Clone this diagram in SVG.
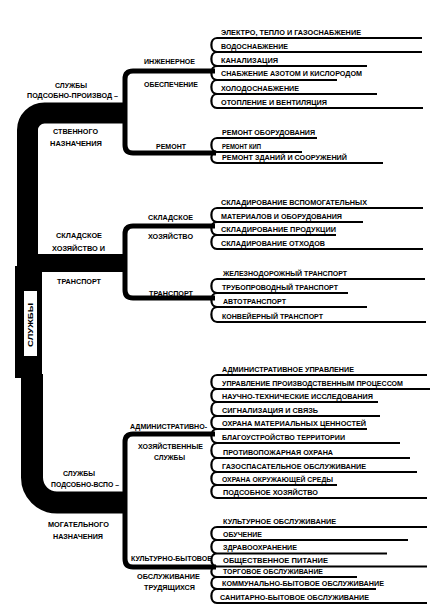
<svg xmlns="http://www.w3.org/2000/svg" width="439" height="615" viewBox="0 0 439 615">
<style>
text{font-family:"Liberation Sans","DejaVu Sans",sans-serif;font-weight:bold;font-size:7.8px;fill:#000}
.tk{fill:none;stroke:#000}
.br{fill:none;stroke:#000;stroke-width:5;stroke-linejoin:round}
.ln{fill:none;stroke:#000;stroke-width:2.2}
</style>
<rect width="439" height="615" fill="#fff"/>
<g id="connectors">
<path class="tk" stroke-width="21" d="M125,113 H44.5 A17,17 0 0 0 27.5,130 V274"/>
<rect x="15" y="266" width="27" height="112" fill="#000"/>
<path class="tk" stroke-width="22" d="M32,374 V477.5 A25,25 0 0 0 57,502.5 H125"/>
<rect x="36" y="254" width="89" height="18" fill="#000"/>
<path class="br" d="M215,71 H133 Q125,71 125,79 V145 Q125,153 133,153 H216"/>
<path class="br" d="M215,226 H133 Q125,226 125,234 V290 Q125,298 133,298 H215"/>
<path class="br" d="M215,434 H133 Q125,434 125,442 V559 Q125,567 133,567 H216"/>
<path class="ln" d="M217,38 C209.5,38 209.5,52 217,52 C209.5,52 209.5,66 217,66 C209.5,66 209.5,80 217,80 C209.5,80 209.5,94 217,94 C209.5,94 209.5,108 217,108 M217,38H422M217,52H422M217,66H367M217,80H337M217,94H377M217,108H423"/>
<path class="ln" d="M217,138 C209.5,138 209.5,152 217,152 C209.5,152 209.5,163 217,163 M217,138H317M217,152H302M217,163H383"/>
<path class="ln" d="M217,208 C209.5,208 209.5,222 217,222 C209.5,222 209.5,235 217,235 C209.5,235 209.5,249 217,249 M217,208H423M217,222H363M217,235H336M217,249H423"/>
<path class="ln" d="M217,279 C209.5,279 209.5,293 217,293 C209.5,293 209.5,307 217,307 C209.5,307 209.5,322 217,322 M217,279H425M217,293H348M217,307H367M217,322H426"/>
<path class="ln" d="M217,375 C209.5,375 209.5,389 217,389 C209.5,389 209.5,402 217,402 C209.5,402 209.5,416 217,416 C209.5,416 209.5,429 217,429 C209.5,429 209.5,443 217,443 C209.5,443 209.5,458 217,458 C209.5,458 209.5,472 217,472 C209.5,472 209.5,485 217,485 C209.5,485 209.5,498 217,498 M217,375H427M217,389H430M217,402H378M217,416H380M217,429H367M217,443H400M217,458H410M217,472H417M217,485H337M217,498H427"/>
<path class="ln" d="M217,527 C209.5,527 209.5,540 217,540 C209.5,540 209.5,553.5 217,553.5 C209.5,553.5 209.5,566.5 217,566.5 C209.5,566.5 209.5,577 217,577 C209.5,577 209.5,589 217,589 C209.5,589 209.5,603 217,603 M217,527H427M217,540H408M217,553.5H387M217,566.5H427M217,577H357M217,589H376M217,603H427"/>
</g>
<g id="root">
<rect x="24" y="291" width="13" height="65" fill="#fff"/>
<text transform="translate(33.3,347) rotate(-90)" x="0" y="0" textLength="44" lengthAdjust="spacingAndGlyphs">СЛУЖБЫ</text>
</g>
<g id="n-prod">
<text x="55" y="88" textLength="32" lengthAdjust="spacingAndGlyphs">СЛУЖБЫ</text>
<text x="27" y="98" textLength="91" lengthAdjust="spacingAndGlyphs">ПОДСОБНО-ПРОИЗВОД –</text>
<text x="53" y="134" textLength="45" lengthAdjust="spacingAndGlyphs">СТВЕННОГО</text>
<text x="50" y="146" textLength="52" lengthAdjust="spacingAndGlyphs">НАЗНАЧЕНИЯ</text>
</g>
<g id="n-eng">
<text x="144" y="64" textLength="51" lengthAdjust="spacingAndGlyphs">ИНЖЕНЕРНОЕ</text>
<text x="144" y="87" textLength="54" lengthAdjust="spacingAndGlyphs">ОБЕСПЕЧЕНИЕ</text>
</g>
<g id="n-rem">
<text x="156" y="149" textLength="30" lengthAdjust="spacingAndGlyphs">РЕМОНТ</text>
</g>
<g id="n-st">
<text x="56" y="238" textLength="46" lengthAdjust="spacingAndGlyphs">СКЛАДСКОЕ</text>
<text x="52" y="251" textLength="53" lengthAdjust="spacingAndGlyphs">ХОЗЯЙСТВО И</text>
<text x="57" y="284" textLength="44" lengthAdjust="spacingAndGlyphs">ТРАНСПОРТ</text>
</g>
<g id="n-sklad">
<text x="148" y="220" textLength="45" lengthAdjust="spacingAndGlyphs">СКЛАДСКОЕ</text>
<text x="148" y="239" textLength="45" lengthAdjust="spacingAndGlyphs">ХОЗЯЙСТВО</text>
</g>
<g id="n-trans">
<text x="149" y="296" textLength="44" lengthAdjust="spacingAndGlyphs">ТРАНСПОРТ</text>
</g>
<g id="n-vsp">
<text x="63" y="476" textLength="32" lengthAdjust="spacingAndGlyphs">СЛУЖБЫ</text>
<text x="51" y="487" textLength="68" lengthAdjust="spacingAndGlyphs">ПОДСОБНО-ВСПО –</text>
<text x="48" y="527" textLength="61" lengthAdjust="spacingAndGlyphs">МОГАТЕЛЬНОГО</text>
<text x="53" y="539" textLength="50" lengthAdjust="spacingAndGlyphs">НАЗНАЧЕНИЯ</text>
</g>
<g id="n-adm">
<text x="130" y="429" textLength="77" lengthAdjust="spacingAndGlyphs">АДМИНИСТРАТИВНО-</text>
<text x="138" y="449" textLength="65" lengthAdjust="spacingAndGlyphs">ХОЗЯЙСТВЕННЫЕ</text>
<text x="154" y="460" textLength="31" lengthAdjust="spacingAndGlyphs">СЛУЖБЫ</text>
</g>
<g id="n-kult">
<text x="131" y="561" textLength="81" lengthAdjust="spacingAndGlyphs">КУЛЬТУРНО-БЫТОВОЕ</text>
<text x="137" y="579" textLength="63" lengthAdjust="spacingAndGlyphs">ОБСЛУЖИВАНИЕ</text>
<text x="144" y="590" textLength="51" lengthAdjust="spacingAndGlyphs">ТРУДЯЩИХСЯ</text>
</g>
<g id="items-eng">
<text x="221" y="34.5" textLength="140" lengthAdjust="spacingAndGlyphs">ЭЛЕКТРО, ТЕПЛО И ГАЗОСНАБЖЕНИЕ</text>
<text x="221" y="48.5" textLength="67" lengthAdjust="spacingAndGlyphs">ВОДОСНАБЖЕНИЕ</text>
<text x="221" y="62.5" textLength="57" lengthAdjust="spacingAndGlyphs">КАНАЛИЗАЦИЯ</text>
<text x="221" y="76" textLength="141" lengthAdjust="spacingAndGlyphs">СНАБЖЕНИЕ АЗОТОМ И КИСЛОРОДОМ</text>
<text x="221" y="90.5" textLength="78" lengthAdjust="spacingAndGlyphs">ХОЛОДОСНАБЖЕНИЕ</text>
<text x="221" y="104.5" textLength="106" lengthAdjust="spacingAndGlyphs">ОТОПЛЕНИЕ И ВЕНТИЛЯЦИЯ</text>
</g>
<g id="items-rem">
<text x="222" y="134.5" textLength="93" lengthAdjust="spacingAndGlyphs">РЕМОНТ ОБОРУДОВАНИЯ</text>
<text x="222" y="148.5" textLength="39" lengthAdjust="spacingAndGlyphs">РЕМОНТ КИП</text>
<text x="222" y="159.5" textLength="125" lengthAdjust="spacingAndGlyphs">РЕМОНТ ЗДАНИЙ И СООРУЖЕНИЙ</text>
</g>
<g id="items-sklad">
<text x="221" y="204.5" textLength="146" lengthAdjust="spacingAndGlyphs">СКЛАДИРОВАНИЕ ВСПОМОГАТЕЛЬНЫХ</text>
<text x="221" y="218.5" textLength="121" lengthAdjust="spacingAndGlyphs">МАТЕРИАЛОВ И ОБОРУДОВАНИЯ</text>
<text x="221" y="231.5" textLength="115" lengthAdjust="spacingAndGlyphs">СКЛАДИРОВАНИЕ ПРОДУКЦИИ</text>
<text x="221" y="245.5" textLength="104" lengthAdjust="spacingAndGlyphs">СКЛАДИРОВАНИЕ ОТХОДОВ</text>
</g>
<g id="items-trans">
<text x="223" y="276" textLength="124" lengthAdjust="spacingAndGlyphs">ЖЕЛЕЗНОДОРОЖНЫЙ ТРАНСПОРТ</text>
<text x="222" y="290" textLength="116" lengthAdjust="spacingAndGlyphs">ТРУБОПРОВОДНЫЙ ТРАНСПОРТ</text>
<text x="223" y="303.5" textLength="63" lengthAdjust="spacingAndGlyphs">АВТОТРАНСПОРТ</text>
<text x="222" y="318.5" textLength="101" lengthAdjust="spacingAndGlyphs">КОНВЕЙЕРНЫЙ ТРАНСПОРТ</text>
</g>
<g id="items-adm">
<text x="222" y="371.5" textLength="132" lengthAdjust="spacingAndGlyphs">АДМИНИСТРАТИВНОЕ УПРАВЛЕНИЕ</text>
<text x="222" y="385.5" textLength="181" lengthAdjust="spacingAndGlyphs">УПРАВЛЕНИЕ ПРОИЗВОДСТВЕННЫМ ПРОЦЕССОМ</text>
<text x="222" y="398.5" textLength="151" lengthAdjust="spacingAndGlyphs">НАУЧНО-ТЕХНИЧЕСКИЕ ИССЛЕДОВАНИЯ</text>
<text x="222" y="412.5" textLength="96" lengthAdjust="spacingAndGlyphs">СИГНАЛИЗАЦИЯ И СВЯЗЬ</text>
<text x="222" y="425.5" textLength="144" lengthAdjust="spacingAndGlyphs">ОХРАНА МАТЕРИАЛЬНЫХ ЦЕННОСТЕЙ</text>
<text x="222" y="439.5" textLength="123" lengthAdjust="spacingAndGlyphs">БЛАГОУСТРОЙСТВО ТЕРРИТОРИИ</text>
<text x="223" y="454.5" textLength="110" lengthAdjust="spacingAndGlyphs">ПРОТИВОПОЖАРНАЯ ОХРАНА</text>
<text x="222" y="468.5" textLength="144" lengthAdjust="spacingAndGlyphs">ГАЗОСПАСАТЕЛЬНОЕ ОБСЛУЖИВАНИЕ</text>
<text x="222" y="481.5" textLength="111" lengthAdjust="spacingAndGlyphs">ОХРАНА ОКРУЖАЮЩЕЙ СРЕДЫ</text>
<text x="223" y="494.5" textLength="95" lengthAdjust="spacingAndGlyphs">ПОДСОБНОЕ ХОЗЯЙСТВО</text>
</g>
<g id="items-kult">
<text x="223" y="523.5" textLength="113" lengthAdjust="spacingAndGlyphs">КУЛЬТУРНОЕ ОБСЛУЖИВАНИЕ</text>
<text x="223" y="536.5" textLength="39" lengthAdjust="spacingAndGlyphs">ОБУЧЕНИЕ</text>
<text x="223" y="550" textLength="74" lengthAdjust="spacingAndGlyphs">ЗДРАВООХРАНЕНИЕ</text>
<text x="223" y="563" textLength="105" lengthAdjust="spacingAndGlyphs">ОБЩЕСТВЕННОЕ ПИТАНИЕ</text>
<text x="223" y="573.5" textLength="100" lengthAdjust="spacingAndGlyphs">ТОРГОВОЕ ОБСЛУЖИВАНИЕ</text>
<text x="222" y="585.5" textLength="162" lengthAdjust="spacingAndGlyphs">КОММУНАЛЬНО-БЫТОВОЕ ОБСЛУЖИВАНИЕ</text>
<text x="220" y="599.5" textLength="149" lengthAdjust="spacingAndGlyphs">САНИТАРНО-БЫТОВОЕ ОБСЛУЖИВАНИЕ</text>
</g>
</svg>
